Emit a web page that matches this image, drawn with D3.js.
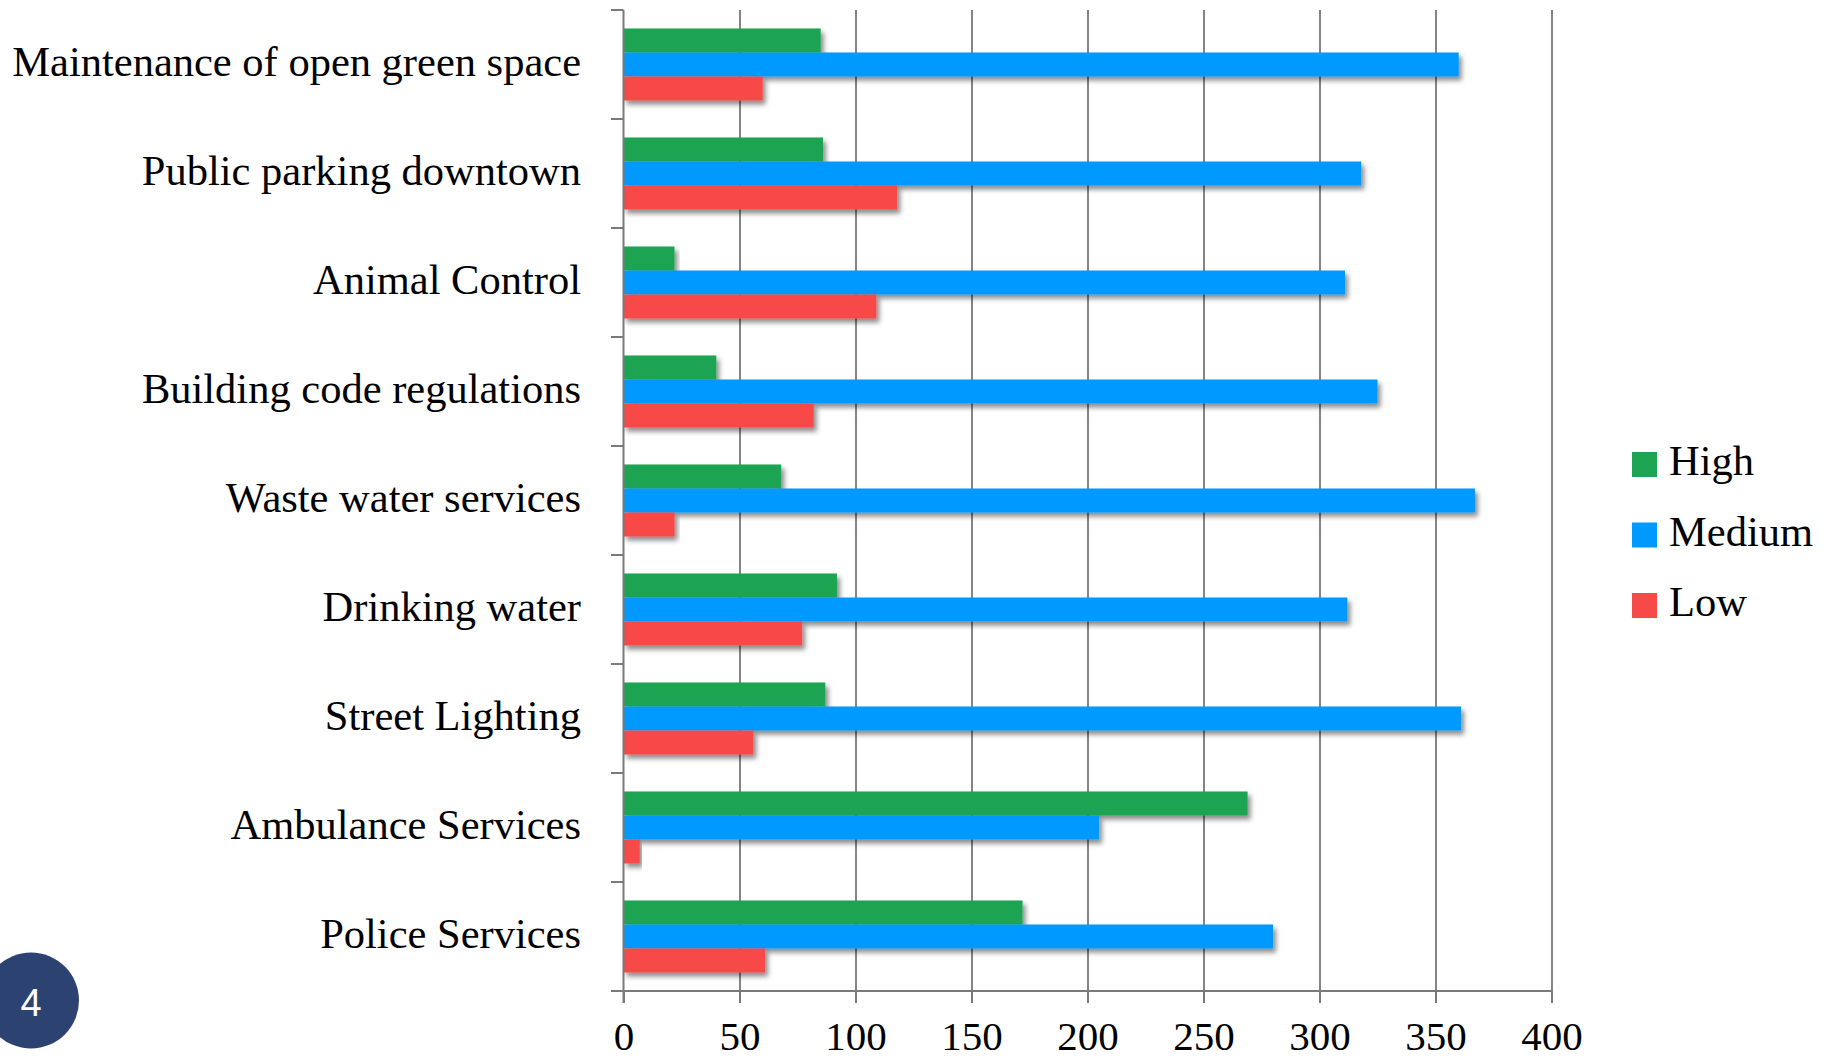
<!DOCTYPE html>
<html>
<head>
<meta charset="utf-8">
<script src="https://cdn.jsdelivr.net/npm/d3@7"></script>
<style>
  body { margin: 0; background: #fff; }
  svg { display: block; }
</style>
</head>
<body>
<div id="chart"></div>
<script>
// data, top to bottom as drawn
const categories = [
  "Maintenance of open green space",
  "Public parking downtown",
  "Animal Control",
  "Building code regulations",
  "Waste water services",
  "Drinking water",
  "Street Lighting",
  "Ambulance Services",
  "Police Services"
];
const series = ["High", "Medium", "Low"];
const highValues = [85, 86, 22, 40, 68, 92, 87, 269, 172];
const mediumValues = [360, 318, 311, 325, 367, 312, 361, 205, 280];
const lowValues = [60, 118, 109, 82, 22, 77, 56, 7, 61];
const xTicks = [0, 50, 100, 150, 200, 250, 300, 350, 400];
const colors = ["#1ca453", "#0099ff", "#f84949"];

(() => {
  const width = 1829;
  const height = 1060;
  const margin = { top: 10, left: 623.5, right: 277.5, bottom: 69 };
  const serif = "'Liberation Serif', 'Times New Roman', serif";

  const svg = d3
    .select("#chart")
    .append("svg")
    .attr("width", width)
    .attr("height", height);

  // soft shadow under the bars
  const filter = svg.append("defs").append("filter")
    .attr("id", "shadow")
    .attr("x", "-10%").attr("y", "-30%")
    .attr("width", "120%").attr("height", "180%");
  filter.append("feDropShadow")
    .attr("dx", 3).attr("dy", 4)
    .attr("stdDeviation", 2.5)
    .attr("flood-color", "#000")
    .attr("flood-opacity", 0.45);

  const x = d3.scaleLinear()
    .domain([0, 400])
    .range([margin.left, width - margin.right]);

  const y = d3.scaleBand()
    .domain(categories)
    .range([margin.top, height - margin.bottom]);

  const ySub = d3.scaleBand()
    .domain(series)
    .range([0, y.bandwidth()])
    .paddingOuter(0.77);

  const axisY = height - margin.bottom;

  // vertical gridlines
  svg.append("g")
    .attr("transform", `translate(0, ${axisY})`)
    .call(d3.axisBottom(x).tickValues(xTicks.slice(1)).tickSize(-(axisY - margin.top)).tickFormat(""))
    .call((g) => g.select(".domain").remove())
    .call((g) => g.selectAll("line").attr("stroke", "#858585").attr("stroke-width", 2));

  // bars
  const rows = categories.map((c, i) => ({
    cat: c,
    vals: [highValues[i], mediumValues[i], lowValues[i]]
  }));
  svg.append("g")
    .selectAll("g")
    .data(rows)
    .join("g")
    .attr("transform", (d) => `translate(0, ${y(d.cat)})`)
    .selectAll("rect")
    .data((d) => d.vals.map((v, j) => ({ s: series[j], v: v, j: j })))
    .join("rect")
    .attr("x", x(0))
    .attr("y", (d) => ySub(d.s))
    .attr("width", (d) => x(d.v) - x(0))
    .attr("height", ySub.bandwidth())
    .attr("fill", (d) => colors[d.j])
    .attr("filter", "url(#shadow)");

  // x axis
  const xAxis = svg.append("g")
    .attr("transform", `translate(0, ${axisY})`)
    .call(d3.axisBottom(x).tickValues(xTicks).tickSize(12).tickSizeOuter(0).tickPadding(18))
    .attr("font-family", serif)
    .attr("font-size", 41);
  xAxis.select(".domain").attr("d", `M${x(0) - 12.5},0H${x(400)}`);
  xAxis.selectAll("path, line").attr("stroke", "#7a7a7a").attr("stroke-width", 2);
  xAxis.selectAll("text").attr("fill", "#000");

  // y axis: ticks at band edges
  const yEdges = categories.map((c) => y(c)).concat([axisY]);
  const yAxis = svg.append("g");
  yAxis.append("line")
    .attr("x1", x(0)).attr("x2", x(0))
    .attr("y1", margin.top).attr("y2", axisY + 12)
    .attr("stroke", "#7a7a7a").attr("stroke-width", 2);
  yAxis.selectAll(".edge")
    .data(yEdges)
    .join("line")
    .attr("class", "edge")
    .attr("x1", x(0) - 12.5).attr("x2", x(0))
    .attr("y1", (d) => d).attr("y2", (d) => d)
    .attr("stroke", "#7a7a7a").attr("stroke-width", 2);
  yAxis.selectAll("text")
    .data(categories)
    .join("text")
    .attr("x", 581)
    .attr("y", (d) => y(d) + y.bandwidth() / 2 + 11)
    .attr("text-anchor", "end")
    .attr("font-family", serif)
    .attr("font-size", 42.5)
    .attr("fill", "#000")
    .text((d) => d);

  // legend
  const legend = svg.append("g").attr("transform", "translate(1632, 452)");
  const item = legend.selectAll("g")
    .data(series)
    .join("g")
    .attr("transform", (d, i) => `translate(0, ${i * 70.5})`);
  item.append("rect")
    .attr("width", 25).attr("height", 25)
    .attr("fill", (d, i) => colors[i]);
  item.append("text")
    .attr("x", 37).attr("y", 23)
    .attr("font-family", serif)
    .attr("font-size", 42.5)
    .attr("fill", "#000")
    .text((d) => d);

  // page number badge
  svg.append("circle")
    .attr("cx", 31).attr("cy", 1000.5).attr("r", 48)
    .attr("fill", "#2c4372");
  svg.append("text")
    .attr("x", 31).attr("y", 1016)
    .attr("text-anchor", "middle")
    .attr("font-family", "'Liberation Sans', Arial, sans-serif")
    .attr("font-size", 38)
    .attr("fill", "#fff")
    .text("4");
})();
</script>
</body>
</html>
